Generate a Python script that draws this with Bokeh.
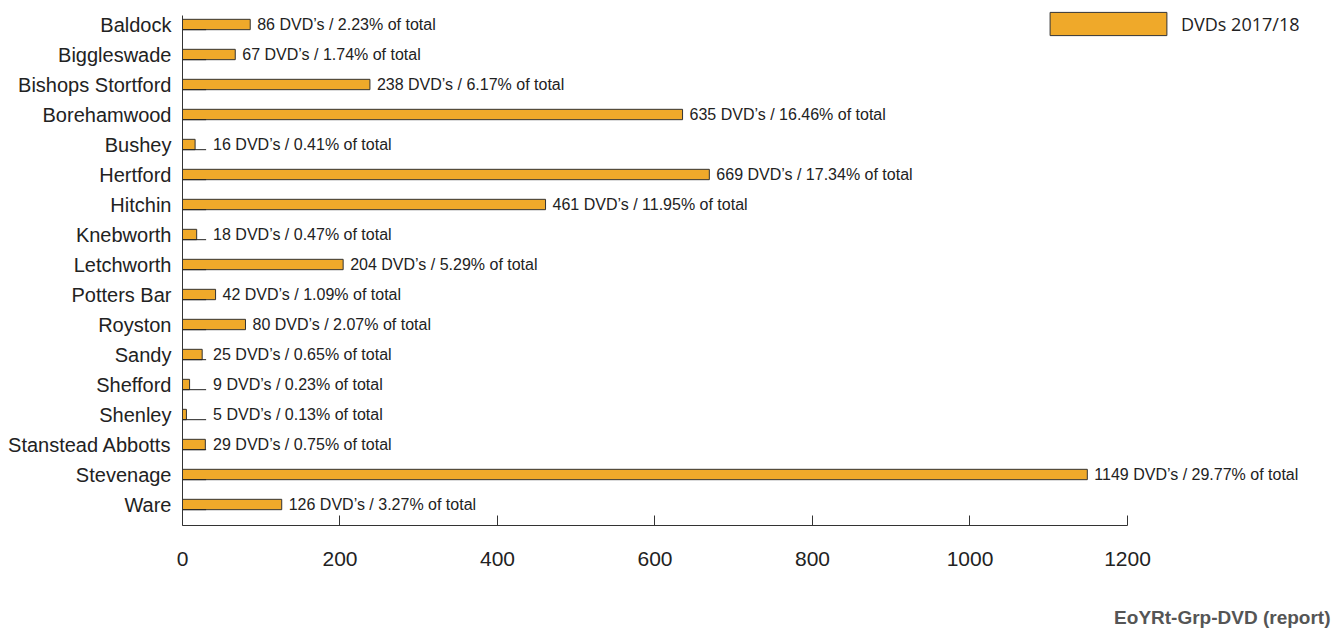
from bokeh.plotting import figure
from bokeh.models import ColumnDataSource, Range1d, FixedTicker, Title, Legend, LegendItem
from bokeh.core.properties import value
from bokeh.embed import file_html
from bokeh.resources import INLINE

branches = ["Baldock", "Biggleswade", "Bishops Stortford", "Borehamwood", "Bushey",
            "Hertford", "Hitchin", "Knebworth", "Letchworth", "Potters Bar", "Royston",
            "Sandy", "Shefford", "Shenley", "Stanstead Abbotts", "Stevenage", "Ware"]
dvds = [86, 67, 238, 635, 16, 669, 461, 18, 204, 42, 80, 25, 9, 5, 29, 1149, 126]
pcts = ["2.23", "1.74", "6.17", "16.46", "0.41", "17.34", "11.95", "0.47", "5.29",
        "1.09", "2.07", "0.65", "0.23", "0.13", "0.75", "29.77", "3.27"]
x_ticks = [0, 200, 400, 600, 800, 1000, 1200]
series_name = "DVDs 2017/18"
footer = "EoYRt-Grp-DVD (report)"
stub = 30

pos = list(range(len(branches)))
bar_h = 0.345
src = ColumnDataSource(dict(
    y=pos, v=dvds,
    lx=[max(d, stub) for d in dvds],
    txt=[f"{d} DVD\u2019s / {p}% of total" for d, p in zip(dvds, pcts)],
    sy=[i + bar_h / 2 for i in pos],
    s0=[0] * len(pos), s1=[stub] * len(pos),
))

p = figure(frame_width=1148, frame_height=525, output_backend="svg", toolbar_location=None,
           x_range=Range1d(0, 1457.8), y_range=Range1d(len(pos) - 1 + 0.7, -0.8),
           min_border_left=182, min_border_right=5, min_border_top=0, min_border_bottom=0)
p.outline_line_color = None
p.xgrid.visible = False
p.ygrid.visible = False

bars = p.hbar(y="y", right="v", left=0, height=bar_h, source=src,
              fill_color="#EFA92A", line_color="#333333", line_width=1)
p.segment(x0="s0", x1="s1", y0="sy", y1="sy", source=src, line_color="#222222", line_width=1)
p.text(x="lx", y="y", text="txt", source=src, x_offset=7, text_baseline="middle",
       text_align="left", text_font=value("Liberation Sans"), text_font_size="16px",
       text_color="#222222")

legend = Legend(items=[LegendItem(label=series_name, renderers=[bars])],
                location=(853, 487), glyph_width=146, glyph_height=29, label_standoff=0,
                padding=0, margin=0, border_line_color=None, background_fill_alpha=0,
                label_text_font="Open Sans", label_text_font_size="18px",
                label_text_color="#222222")
p.add_layout(legend)

xa = p.xaxis[0]
xa.ticker = FixedTicker(ticks=x_ticks)
xa.bounds = (0, 1200)
xa.major_tick_in = 10
xa.major_tick_out = 0
xa.minor_tick_line_color = None
xa.axis_line_color = "#333333"
xa.major_tick_line_color = "#333333"
xa.major_label_standoff = 26
xa.major_label_text_font = "Liberation Sans"
xa.major_label_text_font_size = "21px"
xa.major_label_text_color = "#222222"

ya = p.yaxis[0]
ya.ticker = FixedTicker(ticks=pos)
ya.major_label_overrides = {i: b for i, b in zip(pos, branches)}
ya.bounds = (-0.3, len(pos) - 1 + 0.7)
ya.major_tick_in = 0
ya.major_tick_out = 0
ya.minor_tick_line_color = None
ya.axis_line_color = "#333333"
ya.major_label_standoff = 11
ya.major_label_text_font = "Liberation Sans"
ya.major_label_text_font_size = "20px"
ya.major_label_text_color = "#222222"

p.add_layout(Title(text=footer, align="right", text_font="Liberation Sans",
                   text_font_size="19px", text_font_style="bold", text_color="#555555",
                   standoff=72), "below")

open("out.html", "w").write(file_html(p, INLINE))
